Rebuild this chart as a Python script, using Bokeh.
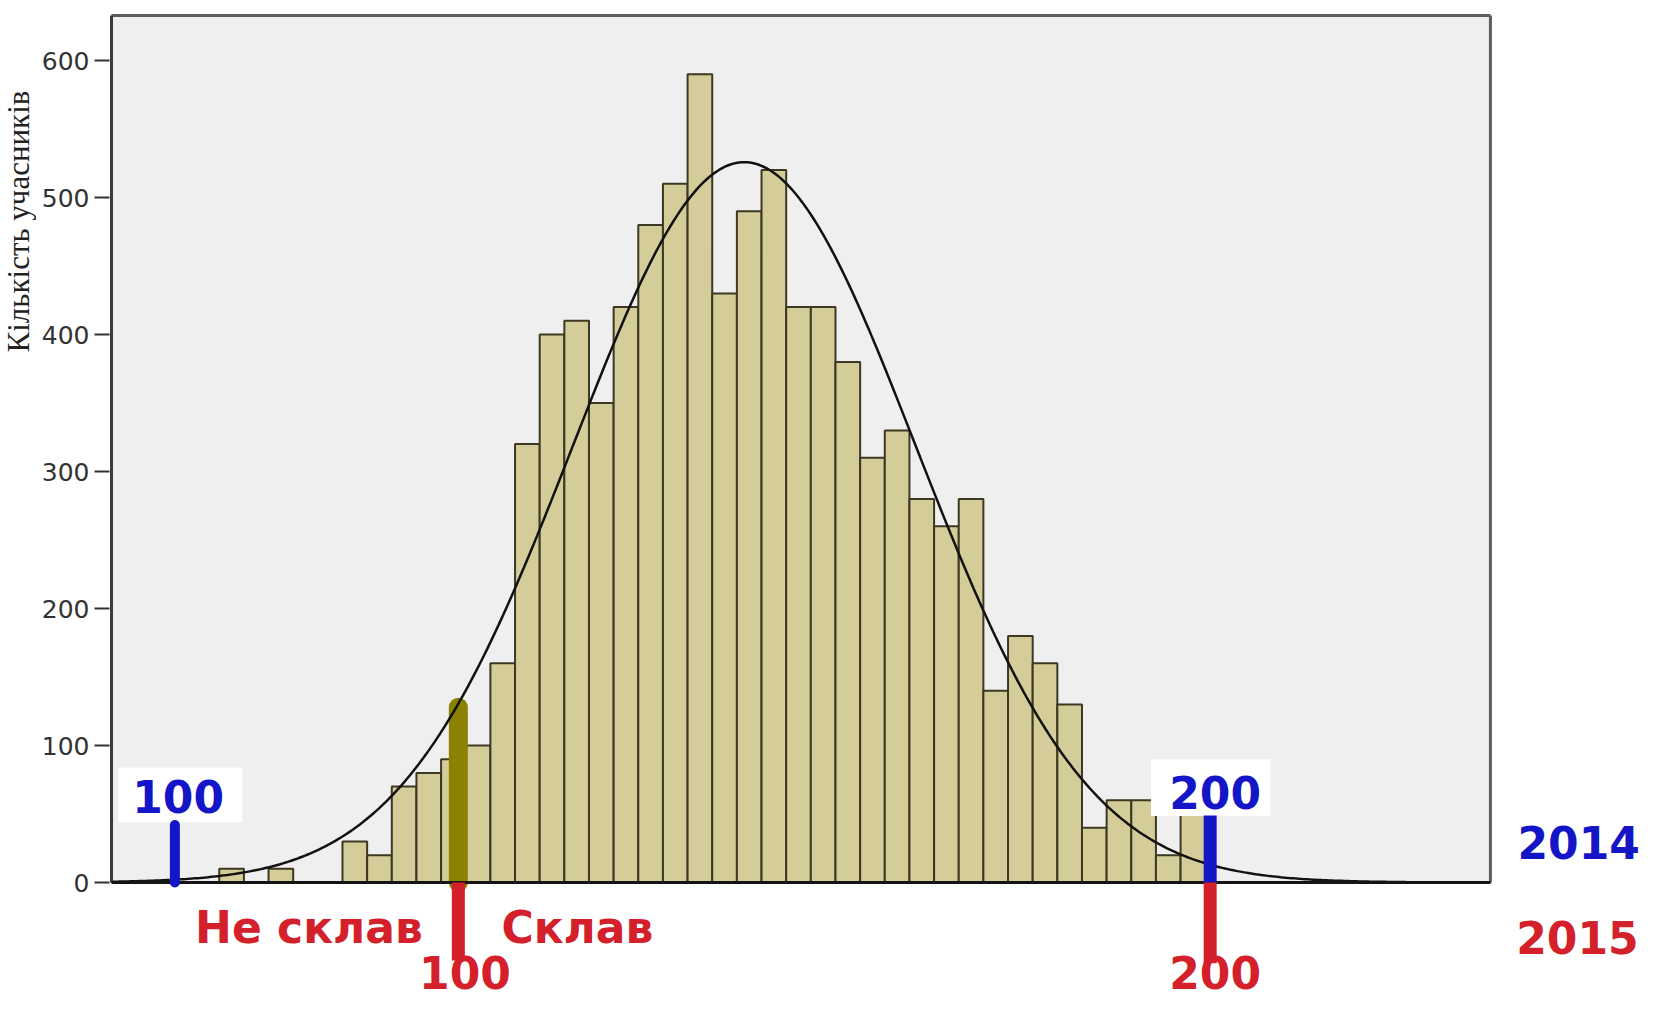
import numpy as np
from bokeh.plotting import figure
from bokeh.layouts import row
from bokeh.models import FixedTicker, ColumnDataSource
from bokeh.embed import file_html
from bokeh.resources import INLINE
from bokeh.core.properties import value

# ---------------- data ----------------
scores = [12, 14, 17, 18, 19, 20, 21, 22, 23, 24, 25, 26, 27, 28, 29, 30,
          31, 32, 33, 34, 35, 36, 37, 38, 39, 40, 41, 42, 43, 44, 45, 46,
          47, 48, 49, 50, 51]
counts = [10, 10, 30, 20, 70, 80, 90, 100, 160, 320, 400, 410, 350, 420,
          480, 510, 590, 430, 490, 520, 420, 420, 380, 310, 330, 280, 260,
          280, 140, 180, 160, 130, 40, 60, 60, 20, 50]
y_ticks = [0, 100, 200, 300, 400, 500, 600]
y_title = "Кількість учасників"

# fitted normal curve
curve_mean = 32.8
curve_sd = 6.95
curve_total = 9160

# score positions of the scale marks
mark_100_2014 = 9.7
mark_100_2015 = 21.2
mark_200 = 51.7

labels_2014 = ["100", "200", "2014"]
labels_2015 = ["100", "200", "2015"]
group_labels = ["Не склав", "Склав"]

# plot box extent
box_left, box_right, box_top = 7.13, 63.07, 632.8

BLUE = "#1515c8"
RED = "#d3202a"
OLIVE = "#8a8200"
BAR = "#d4cc99"
BAR_LINE = "#3c3822"

H = 1003
TITLE_W = 36

# ---- narrow strip carrying the vertical axis title ----
t = figure(width=TITLE_W, height=H, output_backend="svg", toolbar_location=None,
           x_range=(0, TITLE_W), y_range=(0, H),
           x_axis_location=None, y_axis_location=None,
           min_border_left=0, min_border_right=0, min_border_top=0, min_border_bottom=0)
t.outline_line_color = None
t.xgrid.visible = False
t.ygrid.visible = False
t.background_fill_color = "white"
t.border_fill_color = "white"
t.text(x=[TITLE_W / 2], y=[H - 221], text=[y_title], angle=np.pi / 2,
       text_font=value("Liberation Serif"), text_font_size="31px",
       text_color="#222222", text_align="center", text_baseline="middle")

# ---- main histogram ----
p = figure(width=1644 - TITLE_W, height=H, output_backend="svg", toolbar_location=None,
           x_range=(7.048, 69.32), y_range=(-88.3, 643.8),
           x_axis_location=None, y_axis_location="left",
           min_border_left=109 - TITLE_W, min_border_right=0, min_border_top=0, min_border_bottom=0)
p.outline_line_color = None
p.xgrid.visible = False
p.ygrid.visible = False
p.background_fill_color = "white"
p.border_fill_color = "white"

ax = p.yaxis[0]
ax.ticker = FixedTicker(ticks=y_ticks)
ax.axis_line_color = None
ax.major_tick_in = 0
ax.major_tick_out = 15
ax.major_tick_line_color = "#333333"
ax.major_tick_line_width = 2
ax.minor_tick_line_color = None
ax.major_label_standoff = 5
ax.major_label_text_font = "DejaVu Sans"
ax.major_label_text_font_size = "25px"
ax.major_label_text_color = "#333333"

# gray plot box
p.quad(left=[box_left], right=[box_right], bottom=[0], top=[box_top],
       fill_color="#efefef", line_color=None)

# histogram bars
src = ColumnDataSource(dict(x=scores, top=counts))
p.vbar(x="x", top="top", bottom=0, width=1.0, source=src,
       fill_color=BAR, line_color=BAR_LINE, line_width=2)

# white boxes behind the 2014 numbers
p.quad(left=[7.41, 49.3], right=[12.44, 54.15], bottom=[44.0, 48.5], top=[84.0, 90.0],
       fill_color="white", line_color=None)

# olive marker (2015 pass mark) over the bars
p.segment(x0=[mark_100_2015], y0=[0], x1=[mark_100_2015], y1=[128],
          line_color=OLIVE, line_width=19, line_cap="round")

# normal curve
xs = np.linspace(box_left, box_right, 500)
ys = curve_total / (curve_sd * np.sqrt(2 * np.pi)) * np.exp(-0.5 * ((xs - curve_mean) / curve_sd) ** 2)
p.line(xs, ys, line_color="#111111", line_width=2.5)

# box borders
p.segment(x0=[box_left, box_right], y0=[box_top, box_top], x1=[box_right, box_right], y1=[box_top, 0],
          line_color="#5e5e5e", line_width=3)
p.segment(x0=[box_left], y0=[0], x1=[box_left], y1=[box_top], line_color="#3a3a3a", line_width=3)
p.segment(x0=[box_left], y0=[0], x1=[box_right], y1=[0], line_color="#141414", line_width=3)

# 2014 marks (blue, above axis)
p.segment(x0=[mark_100_2014], y0=[0], x1=[mark_100_2014], y1=[42],
          line_color=BLUE, line_width=10, line_cap="round")
p.segment(x0=[mark_200], y0=[0], x1=[mark_200], y1=[49],
          line_color=BLUE, line_width=13)
# 2015 marks (red, below axis)
p.segment(x0=[mark_100_2015, mark_200], y0=[0, 0], x1=[mark_100_2015, mark_200], y1=[-57, -59],
          line_color=RED, line_width=13)

# texts
font = value("DejaVu Sans")
p.text(x=[9.83, 51.9, 66.65], y=[62.8, 65.8, 29.2], text=labels_2014,
       text_color=BLUE, text_font=font, text_font_style="bold", text_font_size="44px",
       text_align="center", text_baseline="middle")
p.text(x=[21.47, 51.9, 66.6], y=[-66.0, -65.5, -40.1], text=labels_2015,
       text_color=RED, text_font=font, text_font_style="bold", text_font_size="44px",
       text_align="center", text_baseline="middle")
p.text(x=[15.14, 26.03], y=[-32.8, -32.8], text=group_labels,
       text_color=RED, text_font=font, text_font_style="bold", text_font_size="44px",
       text_align="center", text_baseline="middle")

layout = row(t, p, spacing=0)
open("out.html", "w").write(file_html(layout, INLINE))
